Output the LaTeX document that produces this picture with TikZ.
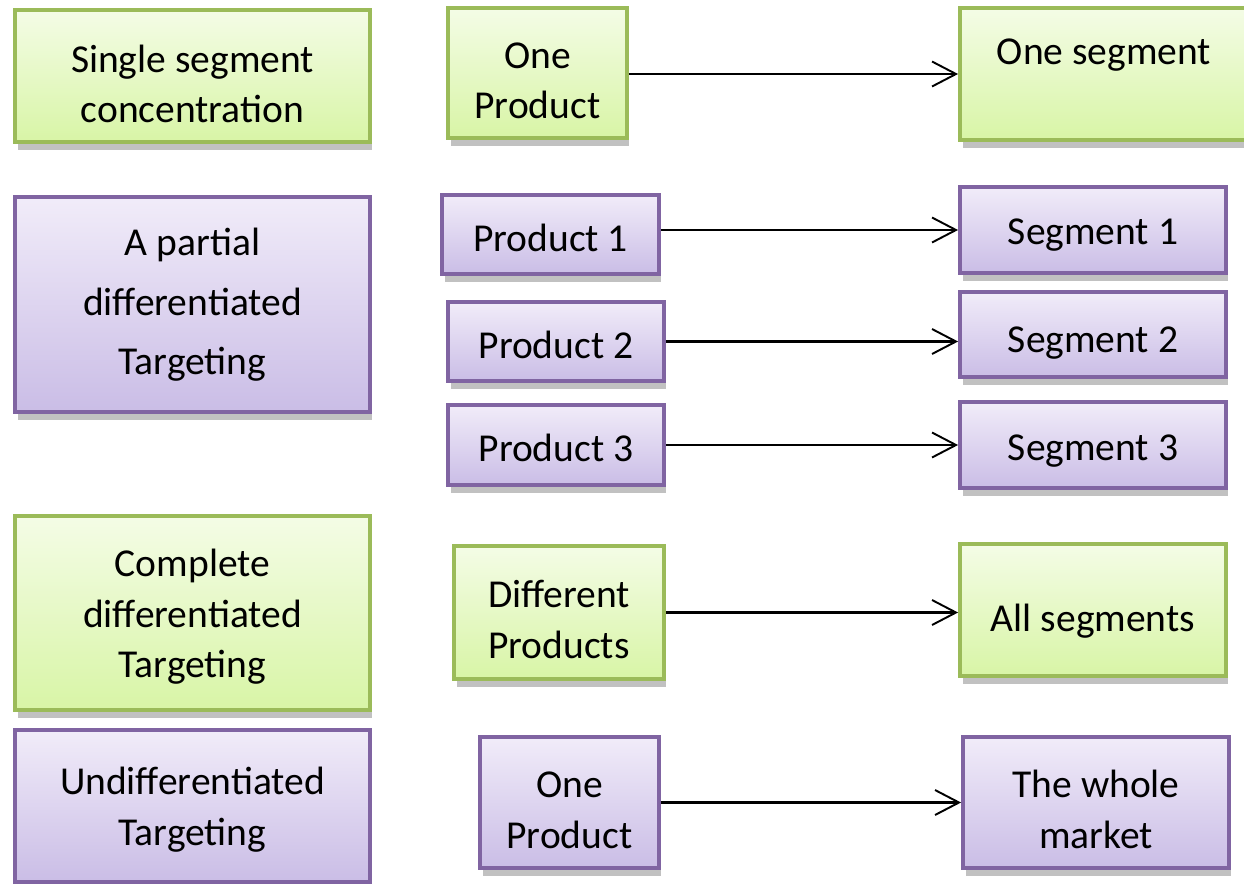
\documentclass[tikz,border=0pt]{standalone}
\usepackage{fontspec}
\setmainfont{Carlito}
\usetikzlibrary{arrows.meta,shadows}

\definecolor{grnline}{HTML}{9BBB59}
\definecolor{grntop}{HTML}{F4FCE6}
\definecolor{grnbot}{HTML}{D8F5A6}
\definecolor{purline}{HTML}{8064A2}
\definecolor{purtop}{HTML}{F1ECF9}
\definecolor{purbot}{HTML}{CABDE6}

\begin{document}
\begin{tikzpicture}[
  x=0.02cm,
  y=-0.02cm,
  box/.style={draw, line width=2.2pt, align=center, inner sep=0pt,
    font=\fontsize{22.5}{29}\selectfont,
    drop shadow={shadow xshift=0.05cm, shadow yshift=-0.16cm, opacity=0.35, fill=black!70}},
  gbox/.style={box, draw=grnline, top color=grntop, bottom color=grnbot},
  pbox/.style={box, draw=purline, top color=purtop, bottom color=purbot},
  bl/.style={text height={0.5cm+#1}, text depth={0.5cm-#1}},
  link/.style={line width=1.6pt, -{Straight Barb[length=0.48cm, width=0.5cm, line width=1.1pt]}}
]
  \useasboundingbox (0,0) rectangle (1244,883);

  \node[gbox, bl=1.38cm, minimum width=7.1cm, minimum height=2.64cm] (t1) at (192.5, 76) {Single segment\\concentration};
  \node[pbox, bl=2.31cm, minimum width=7.1cm, minimum height=4.3cm] (t2) at (192.5, 304.5) {A partial\\[5pt]differentiated\\[5pt]Targeting};
  \node[gbox, bl=2.1cm, minimum width=7.1cm, minimum height=3.88cm] (t3) at (192.5, 613) {Complete\\differentiated\\Targeting};
  \node[pbox, bl=1.06cm, minimum width=7.1cm, minimum height=3.04cm] (t4) at (192.5, 806) {Undifferentiated\\Targeting};

  \node[gbox, bl=1.34cm, minimum width=3.58cm, minimum height=2.6cm] (p1) at (537.5, 73) {One\\Product};
  \node[pbox, bl=0.33cm, minimum width=4.34cm, minimum height=1.58cm] (p2) at (550.5, 234.5) {Product 1};
  \node[pbox, bl=0.33cm, minimum width=4.32cm, minimum height=1.58cm] (p3) at (556, 341.5) {Product 2};
  \node[pbox, bl=0.32cm, minimum width=4.32cm, minimum height=1.6cm] (p4) at (556, 445) {Product 3};
  \node[gbox, bl=1.35cm, minimum width=4.2cm, minimum height=2.66cm] (p5) at (559, 612.5) {Different\\Products};
  \node[pbox, bl=1.35cm, minimum width=3.58cm, minimum height=2.62cm] (p6) at (569.5, 802.5) {One\\Product};

  \node[gbox, bl=-0.2cm, minimum width=5.76cm, minimum height=2.64cm] (s1) at (1104, 74) {One segment};
  \node[pbox, bl=0.28cm, minimum width=5.32cm, minimum height=1.72cm] (s2) at (1093, 230) {Segment 1};
  \node[pbox, bl=0.35cm, minimum width=5.32cm, minimum height=1.7cm] (s3) at (1093, 334.5) {Segment 2};
  \node[pbox, bl=0.3cm, minimum width=5.32cm, minimum height=1.72cm] (s4) at (1093, 445) {Segment 3};
  \node[gbox, bl=0.42cm, minimum width=5.32cm, minimum height=2.64cm] (s5) at (1093, 610) {All segments};
  \node[pbox, bl=1.35cm, minimum width=5.32cm, minimum height=2.62cm] (s6) at (1096, 802.5) {The whole\\market};

  \draw[link] (p1.east |- s1.west) -- (s1.west);
  \draw[link] (p2.east |- s2.west) -- (s2.west);
  \draw[link] (p3.east) -- (p3.east -| s3.west);
  \draw[link] (p4.east) -- (p4.east -| s4.west);
  \draw[link] (p5.east) -- (p5.east -| s5.west);
  \draw[link] (p6.east) -- (p6.east -| s6.west);
\end{tikzpicture}
\end{document}
